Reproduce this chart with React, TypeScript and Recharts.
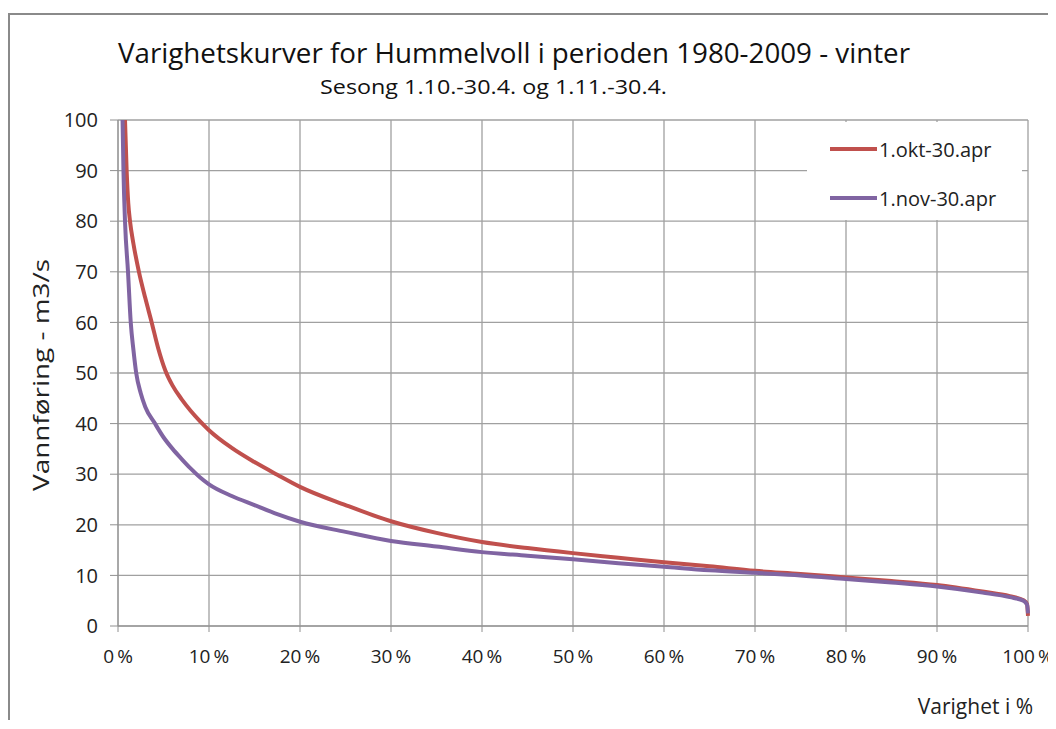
import React from "react";
import { LineChart, Line, XAxis, YAxis, CartesianGrid } from "recharts";

const xTicks = [0, 10, 20, 30, 40, 50, 60, 70, 80, 90, 100];
const yTicks = [0, 10, 20, 30, 40, 50, 60, 70, 80, 90, 100];

const oktPct = [0.77, 0.95, 1.13, 1.32, 1.7, 2.3, 3.0, 3.7, 4.4, 5.2, 6, 7, 8, 9, 10, 12.5, 15, 17.5, 20, 25, 30, 35, 40, 45, 50, 55, 60, 65, 70, 75, 80, 85, 90, 95, 98, 99.5, 99.9, 100];
const oktVal = [100, 90, 83.5, 80, 75.5, 70, 64.8, 60, 55, 50.5, 47.5, 44.8, 42.5, 40.5, 38.7, 35.2, 32.4, 29.9, 27.5, 23.9, 20.7, 18.4, 16.6, 15.4, 14.4, 13.5, 12.6, 11.8, 10.9, 10.3, 9.6, 8.9, 8.1, 6.8, 5.9, 5.1, 4.3, 2.0];

const novPct = [0.5, 0.6, 0.77, 1.1, 1.4, 1.7, 2.0, 2.5, 3, 4, 5, 6, 7, 8, 9, 10, 12.5, 15, 17.5, 20, 25, 30, 35, 40, 45, 50, 55, 60, 65, 70, 75, 80, 85, 90, 95, 98, 99.5, 99.9, 100];
const novVal = [100, 90, 80, 70, 60, 54.5, 50, 46, 43.3, 40.2, 37.3, 35, 33, 31.1, 29.4, 28, 25.7, 23.9, 22.1, 20.6, 18.6, 16.8, 15.7, 14.6, 13.9, 13.2, 12.4, 11.7, 11.0, 10.5, 10.0, 9.3, 8.6, 7.8, 6.6, 5.7, 5.0, 4.2, 2.5];

const seriesNames = ["1.okt-30.apr", "1.nov-30.apr"];
const seriesColors = ["#C0504D", "#8064A2"];

const oktData = oktPct.map((x, i) => ({ x, v: oktVal[i] }));
const novData = novPct.map((x, i) => ({ x, v: novVal[i] }));

const FONT = "'Open Sans', 'Liberation Sans', sans-serif";

export default function App() {
  return (
    <div style={{ position: "relative", width: 1048, height: 712, overflow: "hidden", fontFamily: FONT }}>
      <style>{"html,body{overflow:hidden}"}</style>
      <div
        style={{
          position: "absolute",
          left: 0,
          top: 5,
          width: 1100,
          height: 800,
          border: "2px solid #8a8a8a",
          boxSizing: "border-box",
        }}
      />
      <div style={{ position: "absolute", left: 0, top: 0 }}>
        <LineChart width={1048} height={700} margin={{ top: 112, right: 28, bottom: 42, left: 50 }}>
          <CartesianGrid stroke="#a0a0a0" strokeWidth={1.3} />
          <XAxis
            type="number"
            dataKey="x"
            domain={[0, 100]}
            ticks={xTicks}
            tickFormatter={(v) => `${v}\u2009%`}
            interval={0}
            height={40}
            tickSize={6}
            tickMargin={18}
            stroke="#909090"
            tick={{ fill: "#222", fontSize: 19, fontFamily: FONT }}
          />
          <YAxis
            type="number"
            domain={[0, 100]}
            ticks={yTicks}
            interval={0}
            width={60}
            tickSize={8}
            tickMargin={12}
            stroke="#909090"
            tick={{ fill: "#222", fontSize: 20, fontFamily: FONT }}
          />
          <Line
            data={oktData}
            dataKey="v"
            name={seriesNames[0]}
            type="monotone"
            stroke={seriesColors[0]}
            strokeWidth={4}
            dot={false}
            isAnimationActive={false}
          />
          <Line
            data={novData}
            dataKey="v"
            name={seriesNames[1]}
            type="monotone"
            stroke={seriesColors[1]}
            strokeWidth={4}
            dot={false}
            isAnimationActive={false}
          />
        </LineChart>
      </div>
      <div
        style={{
          position: "absolute",
          left: 799,
          top: 114,
          width: 215,
          height: 98,
          background: "#fff",
        }}
      >
        {seriesNames.map((n, i) => (
          <div
            key={n}
            style={{
              position: "absolute",
              left: 23,
              top: i === 0 ? 13 : 62,
              height: 28,
              display: "flex",
              alignItems: "center",
              whiteSpace: "nowrap",
            }}
          >
            <div style={{ width: 47, height: 4, background: seriesColors[i], marginRight: 2 }} />
            <span style={{ fontSize: 20, color: "#222" }}>{n}</span>
          </div>
        ))}
      </div>
      <svg
        width={1048}
        height={712}
        style={{ position: "absolute", left: 0, top: 0, pointerEvents: "none" }}
      >
        <text
          x={110}
          y={55}
          fontSize={27}
          fill="#111"
          fontFamily={FONT}
          textLength={792}
          lengthAdjust="spacingAndGlyphs"
        >
          Varighetskurver for Hummelvoll i perioden 1980-2009 - vinter
        </text>
        <text
          x={312}
          y={86}
          fontSize={20}
          fill="#111"
          fontFamily={FONT}
          textLength={347}
          lengthAdjust="spacingAndGlyphs"
        >
          Sesong 1.10.-30.4. og 1.11.-30.4.
        </text>
        <text
          x={32}
          y={367}
          fontSize={22}
          fill="#222"
          fontFamily={FONT}
          textAnchor="middle"
          dominantBaseline="central"
          textLength={232}
          lengthAdjust="spacingAndGlyphs"
          transform="rotate(-90 32 367)"
        >
          Vannføring - m3/s
        </text>
        <text
          x={1025}
          y={698}
          fontSize={21}
          fill="#222"
          fontFamily={FONT}
          textAnchor="end"
          dominantBaseline="central"
        >
          Varighet i %
        </text>
      </svg>
    </div>
  );
}
